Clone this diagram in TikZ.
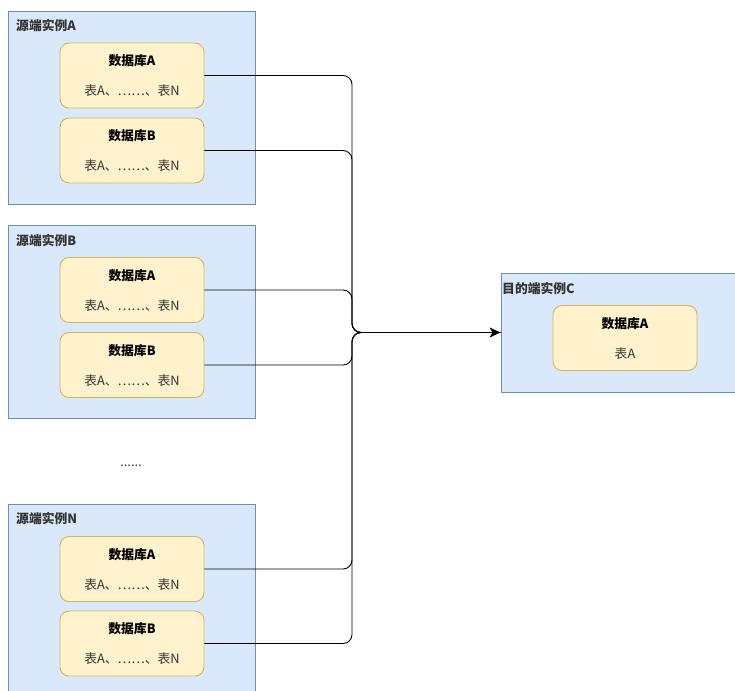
\documentclass[tikz,border=0pt]{standalone}
\usepackage{fontspec}
\setmainfont{Noto Sans CJK SC}
\usetikzlibrary{arrows.meta,calc}
\definecolor{cfill}{HTML}{DAE8FC}
\definecolor{cline}{HTML}{6C8EBF}
\definecolor{dfill}{HTML}{FFF2CC}
\definecolor{dline}{HTML}{D6B656}
\definecolor{ink}{HTML}{333333}
\tikzset{
  inst/.style={draw=cline, fill=cfill, line width=0.9pt, minimum width=247pt, minimum height=193pt, inner sep=0pt},
  dbbox/.style={draw=dline, fill=dfill, line width=0.9pt, rounded corners=9pt, minimum width=144pt, minimum height=65pt, inner sep=0pt},
  dbtitle/.style={font=\bfseries\fontsize{12.8}{14}\selectfont, text=black, inner sep=0pt},
  dbtext/.style={font=\fontsize{12.8}{14}\selectfont, text=ink, inner sep=0pt},
  insttitle/.style={font=\bfseries\fontsize{12.8}{14}\selectfont, text=ink, inner sep=0pt, anchor=west},
  conn/.style={line width=0.9pt, black, rounded corners=9pt},
}
\newcommand{\mydb}[5]{%
  \node[dbbox] (#1) at (#2,#3) {};
  \node[dbtitle] (#1t) at ($(#1.center)+(0,-14.5)$) {#4};
  \node[dbtext] (#1s) at ($(#1.center)+(0,15.5)$) {#5};
}
\begin{document}
\begin{tikzpicture}[x=1pt,y=-1pt]
\useasboundingbox (0,0) rectangle (735,690);
\clip (0,0) rectangle (735,690);
% source instance A
\node[inst] (instA) at (131.5,107.5) {};
\node[insttitle] (instAt) at (16,26) {源端实例A};
\mydb{aA}{132}{75.5}{数据库A}{表A、……、表N}
\mydb{aB}{132}{150.5}{数据库B}{表A、……、表N}
% source instance B
\node[inst] (instB) at (131.5,321.5) {};
\node[insttitle] (instBt) at (16,241) {源端实例B};
\mydb{bA}{132}{290}{数据库A}{表A、……、表N}
\mydb{bB}{132}{365}{数据库B}{表A、……、表N}
% dots
\node[dbtext] (dots) at (131,466) {......};
% source instance N
\node[inst, minimum height=210pt] (instN) at (131.5,609) {};
\node[insttitle] (instNt) at (16,519) {源端实例N};
\mydb{nA}{132}{569}{数据库A}{表A、……、表N}
\mydb{nB}{132}{643.5}{数据库B}{表A、……、表N}
% target instance C
\node[inst, minimum width=245pt, minimum height=119pt] (instC) at (623.5,332.5) {};
\node[insttitle] (instCt) at (502,289) {目的端实例C};
\mydb{cA}{625}{338}{数据库A}{表A}
% connectors
\coordinate (j) at (352,332.5);
\foreach \s in {aA,aB,bA,bB,nA,nB}{
  \draw[conn] (\s.east) -| (j) -- (instC.west);
}
\draw[line width=0.9pt, -{Stealth[length=11pt,width=10pt,inset=3pt]}] ($(j)+(8,0)$) -- (instC.west);
\end{tikzpicture}
\end{document}
